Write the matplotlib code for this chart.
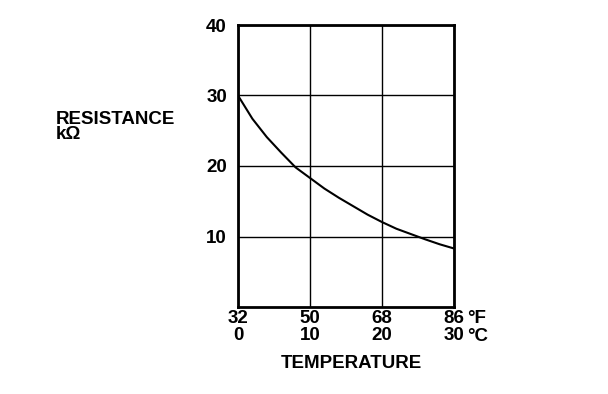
import matplotlib.pyplot as plt

# temperature in deg C, resistance in kOhm
temp_c = [0, 2, 4, 6, 8, 10, 12, 14, 16, 18, 20, 22, 24, 26, 28, 30]
resistance = [30, 26.7, 24.1, 21.9, 19.8, 18.3, 16.8, 15.5, 14.3, 13.1,
              12.05, 11.1, 10.35, 9.6, 8.9, 8.3]

x_ticks = [0, 10, 20, 30]
x_labels_f = ["32", "50", "68", "86"]
x_labels_c = ["0", "10", "20", "30"]
y_ticks = [10, 20, 30, 40]

plt.rcParams["font.family"] = ["Liberation Sans", "DejaVu Sans"]
plt.rcParams["font.weight"] = "bold"
FS = 13.5

fig = plt.figure(figsize=(6.08, 3.94), dpi=100)
ax = fig.add_axes([238 / 608, 87 / 394, 216 / 608, 282 / 394])

ax.plot(temp_c, resistance, color="black", lw=1.5)

ax.set_xlim(0, 30)
ax.set_ylim(0, 40)
ax.set_xticks(x_ticks)
ax.set_xticklabels([f + "\n" + c for f, c in zip(x_labels_f, x_labels_c)],
                   fontsize=FS, fontweight="bold", linespacing=1.05)
ax.set_yticks(y_ticks)
ax.set_yticklabels([str(v) for v in y_ticks], fontsize=FS, fontweight="bold")
ax.tick_params(length=0)
ax.tick_params(axis="y", pad=8)
ax.tick_params(axis="x", pad=2)
ax.grid(True, color="black", lw=1)
for s in ax.spines.values():
    s.set_linewidth(2)

fig.text(351 / 608, 1 - 368 / 394, "TEMPERATURE", fontsize=FS, fontweight="bold",
         va="baseline", ha="center")
fig.text(467 / 608, 1 - 323 / 394, "°F", fontsize=FS, fontweight="bold",
         va="baseline", ha="left")
fig.text(467 / 608, 1 - 341 / 394, "°C", fontsize=FS, fontweight="bold",
         va="baseline", ha="left")
fig.text(56 / 608, 1 - 124 / 394, "RESISTANCE", fontsize=FS, fontweight="bold",
         va="baseline", ha="left")
fig.text(56 / 608, 1 - 139.5 / 394, "kΩ", fontsize=FS, fontweight="bold",
         va="baseline", ha="left")

fig.savefig("out.png", dpi=100)
